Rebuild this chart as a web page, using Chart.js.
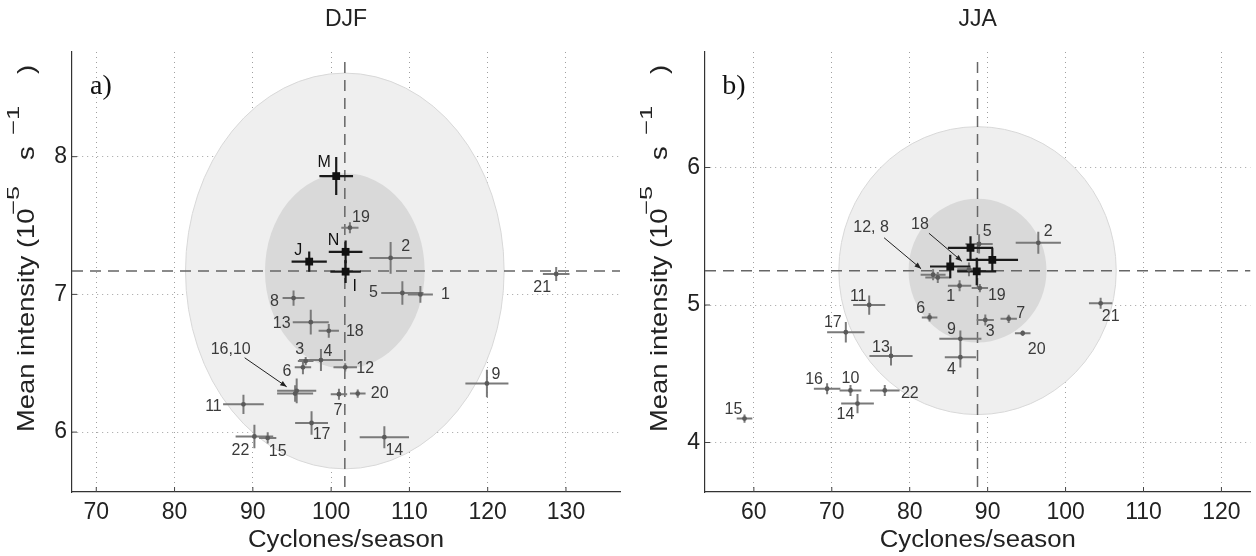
<!DOCTYPE html>
<html><head><meta charset="utf-8">
<script src="https://cdn.jsdelivr.net/npm/chart.js@4"></script>
<style>
html,body{margin:0;padding:0;background:#fff;width:1256px;height:556px;overflow:hidden}
#ca{position:absolute;left:0;top:0}
#cb{position:absolute;left:633px;top:0}
</style></head><body>
<canvas id="ca" width="628" height="556"></canvas>
<canvas id="cb" width="623" height="556"></canvas>
<script>
// ---------------- DATA ----------------
const modelIds = ['1','2','3','4','5','6','7','8','9','10','11','12','13','14','15','16','17','18','19','20','21','22'];
const reanIds = ['M','N','J','I'];

// DJF (panel a)
const djfModelX    = [111.4,107.6,96.75,98.7,109.1,96.4,101.0,95.2,119.9,95.4,88.8,101.8,97.4,106.8,91.9,95.6,97.5,99.7,102.4,103.4,128.75,90.2];
const djfModelY    = [7.00,7.265,6.516,6.523,7.01,6.47,6.275,6.973,6.353,6.28,6.202,6.47,6.798,5.963,5.958,6.30,6.066,6.735,7.484,6.28,7.148,5.968];
const djfModelErrX = [1.6,2.7,1.0,2.8,2.7,1.05,1.05,1.4,2.75,2.3,2.6,1.5,2.3,3.15,1.1,2.5,2.1,1.3,1.1,1.0,1.7,2.4];
const djfModelErrY = [0.06,0.115,0.03,0.08,0.085,0.05,0.04,0.055,0.1,0.06,0.07,0.03,0.09,0.08,0.04,0.09,0.085,0.05,0.04,0.03,0.05,0.085];
const djfReanX     = [100.65,101.85,97.2,101.85];
const djfReanY     = [7.859,7.309,7.238,7.165];
const djfReanErrX  = [2.15,2.15,2.25,1.95];
const djfReanErrY  = [0.138,0.083,0.073,0.083];
const djfMean      = [101.75,7.17];
const djfSigma     = [10.2,0.71];
const djfSigma2    = [20.35,1.437];
const djfXTicks    = [70,80,90,100,110,120,130];
const djfYTicks    = [6,7,8];
const djfXRange    = [66.9,136.9];
const djfYRange    = [5.565,8.76];

// JJA (panel b)
const jjaModelX    = [86.4,96.5,89.7,86.5,88.9,82.55,92.7,83.6,86.5,72.4,74.8,83.0,77.6,73.3,58.8,69.4,71.8,87.6,89.0,94.5,104.5,76.8];
const jjaModelY    = [5.14,5.452,4.891,4.62,5.444,4.91,4.90,5.20,4.754,4.379,5.0,5.22,4.63,4.283,4.174,4.391,4.802,5.26,5.123,4.795,5.012,4.379];
const jjaModelErrX = [1.5,2.9,1.1,2.0,1.75,1.0,1.05,1.6,2.7,1.4,2.06,1.6,2.77,2.1,1.0,1.7,2.4,1.5,1.05,1.0,1.5,1.9];
const jjaModelErrY = [0.04,0.08,0.04,0.075,0.07,0.03,0.03,0.04,0.06,0.04,0.07,0.04,0.07,0.07,0.03,0.04,0.075,0.05,0.03,0.02,0.04,0.04];
const jjaReanX     = [87.8,90.6,85.2,88.6];
const jjaReanY     = [5.415,5.328,5.28,5.244];
const jjaReanErrX  = [2.9,3.3,2.6,2.5];
const jjaReanErrY  = [0.085,0.085,0.085,0.1];
const jjaMean      = [88.7,5.25];
const jjaSigma     = [8.85,0.523];
const jjaSigma2    = [17.8,1.047];
const jjaXTicks    = [60,70,80,90,100,110,120];
const jjaYTicks    = [4,5,6];
const jjaXRange    = [53.73,123.73];
const jjaYRange    = [3.64,6.84];

// axis titles (text)
const xTitle = 'Cyclones/season';
const yTitleParts = [
  {text: 'Mean intensity (10', sup: false},
  {text: '\u22125', sup: true},
  {text: 's', sup: false},
  {text: '\u22121', sup: true},
  {text: ')', sup: false}
];

// ---------------- LABEL PLACEMENT (pixel offsets) ----------------
const djfLabelOffsets = {
  '1':[25,0],'2':[15,-11],'3':[-6,-11],'4':[7,-8],'5':[-29,0],'6':[-16,4],'7':[-1,16],'8':[-19,3],'9':[9,-9],
  '11':[-30,2],'12':[20,1],'13':[-29,1],'14':[10,13],'15':[10,14],'17':[10,12],'18':[26,1],'19':[11,-10],
  '20':[22,0],'21':[-14,14],'22':[-14,14],
  'M':[-12,-13],'N':[-12,-11],'J':[-11,-11],'I':[9,15]
};
const djfCallouts = [{text:'16,10', target:'16', label:[-66,-41], from:[-52,-33], to:[-10,-4]}];
const jjaLabelOffsets = {
  '1':[-9,11],'2':[10,-11],'3':[5,12],'4':[-9,12],'5':[8,-12],'6':[-9,-9],'7':[12,-5],'9':[-9,-9],'10':[0,-12],
  '11':[-11,-8],'13':[-10,-8],'14':[-12,11],'15':[-11,-9],'16':[-13,-9],'17':[-13,-10],'19':[17,8],
  '20':[14,16],'21':[10,13],'22':[25,3]
};
const jjaCallouts = [
  {text:'12, 8', target:'12', label:[-62,-47], from:[-49,-37], to:[-12,-6]},
  {text:'18', target:'18', label:[-49,-45], from:[-40,-36], to:[-7,-8]}
];
// along-text start (px), font size, horizontal stretch, raise for each y-title part
const yTitleLayout = [[0,24,1.14,0],[217,17,1.5,15],[272,24,1.14,0],[297,17,1.5,15],[358,24,1.14,0]];

// ---------------- CHART ----------------
const FONT = 'Liberation Sans';
Chart.defaults.font.family = FONT;

function pts(xs, ys, exs, eys, ids) {
  return xs.map((v, i) => ({x: v, y: ys[i], ex: exs[i], ey: eys[i], id: ids[i]}));
}

function makePanelPlugin(cfg) {
  return {
    id: 'panel_' + cfg.title,
    beforeDatasetsDraw(chart) {
      const {ctx, chartArea: a, scales: {x, y}} = chart;
      ctx.save();
      ctx.beginPath(); ctx.rect(a.left, a.top, a.right - a.left, a.bottom - a.top); ctx.clip();
      const cx = x.getPixelForValue(cfg.mean[0]), cy = y.getPixelForValue(cfg.mean[1]);
      [[cfg.sigma2, '#efefef', '#d8d8d8'], [cfg.sigma, '#d9d9d9', null]].forEach(([r, fill, stroke]) => {
        const rx = Math.abs(x.getPixelForValue(cfg.mean[0] + r[0]) - cx);
        const ry = Math.abs(y.getPixelForValue(cfg.mean[1] + r[1]) - cy);
        ctx.beginPath(); ctx.ellipse(cx, cy, rx, ry, 0, 0, 2 * Math.PI);
        ctx.fillStyle = fill; ctx.fill();
        if (stroke) { ctx.strokeStyle = stroke; ctx.lineWidth = 1; ctx.stroke(); }
      });
      ctx.setLineDash([11, 7]); ctx.strokeStyle = '#666'; ctx.lineWidth = 1.5;
      ctx.beginPath(); ctx.moveTo(cx, a.top + 10); ctx.lineTo(cx, a.bottom); ctx.stroke();
      ctx.beginPath(); ctx.moveTo(a.left, cy); ctx.lineTo(a.right, cy); ctx.stroke();
      ctx.setLineDash([]);
      const order = chart.data.datasets.slice().reverse();
      order.forEach(ds => {
        ctx.strokeStyle = ds.errColor; ctx.lineWidth = ds.errWidth;
        ds.data.forEach(d => {
          const px = x.getPixelForValue(d.x), py = y.getPixelForValue(d.y);
          ctx.beginPath();
          ctx.moveTo(x.getPixelForValue(d.x - d.ex), py); ctx.lineTo(x.getPixelForValue(d.x + d.ex), py);
          ctx.moveTo(px, y.getPixelForValue(d.y - d.ey)); ctx.lineTo(px, y.getPixelForValue(d.y + d.ey));
          ctx.stroke();
        });
      });
      ctx.restore();
    },
    afterDatasetsDraw(chart) {
      const {ctx, chartArea: a, scales: {x, y}} = chart;
      ctx.save();
      // inward tick marks
      ctx.strokeStyle = '#444'; ctx.lineWidth = 1;
      x.ticks.forEach(t => { const p = x.getPixelForValue(t.value); ctx.beginPath(); ctx.moveTo(p, a.bottom); ctx.lineTo(p, a.bottom - 5); ctx.stroke(); });
      y.ticks.forEach(t => { const p = y.getPixelForValue(t.value); ctx.beginPath(); ctx.moveTo(a.left, p); ctx.lineTo(a.left + 5, p); ctx.stroke(); });
      // point labels
      ctx.textAlign = 'center'; ctx.textBaseline = 'middle';
      ctx.font = '16px "' + FONT + '"';
      chart.data.datasets.forEach(ds => {
        ctx.fillStyle = ds.labelColor;
        ds.data.forEach(d => {
          const off = cfg.offsets[d.id];
          if (!off) return;
          ctx.fillText(d.id, x.getPixelForValue(d.x) + off[0], y.getPixelForValue(d.y) + off[1]);
        });
      });
      // callouts with arrows
      const all = chart.data.datasets.flatMap(ds => ds.data);
      cfg.callouts.forEach(c => {
        const d = all.find(p => p.id === c.target);
        const px = x.getPixelForValue(d.x), py = y.getPixelForValue(d.y);
        ctx.fillStyle = '#3a3a3a';
        ctx.fillText(c.text, px + c.label[0], py + c.label[1]);
        const x1 = px + c.from[0], y1 = py + c.from[1], x2 = px + c.to[0], y2 = py + c.to[1];
        ctx.strokeStyle = '#222'; ctx.lineWidth = 1;
        ctx.beginPath(); ctx.moveTo(x1, y1); ctx.lineTo(x2, y2); ctx.stroke();
        const ang = Math.atan2(y2 - y1, x2 - x1), L = 7, w = 0.38;
        ctx.beginPath();
        ctx.moveTo(x2, y2);
        ctx.lineTo(x2 - L * Math.cos(ang - w), y2 - L * Math.sin(ang - w));
        ctx.lineTo(x2 - L * Math.cos(ang + w), y2 - L * Math.sin(ang + w));
        ctx.closePath(); ctx.fillStyle = '#222'; ctx.fill();
      });
      // panel letter
      ctx.fillStyle = '#111';
      ctx.font = '28px "Liberation Serif"';
      ctx.fillText(cfg.letter, a.left + 29, a.top + 35);
      ctx.restore();
    },
    afterDraw(chart) {
      const {ctx, chartArea: a} = chart;
      // x-axis title (slightly widened, like the reference)
      ctx.save();
      ctx.translate((a.left + a.right) / 2, 541);
      ctx.scale(1.12, 1);
      ctx.fillStyle = '#222'; ctx.textAlign = 'center'; ctx.textBaseline = 'middle';
      ctx.font = '23px "' + FONT + '"';
      ctx.fillText(xTitle, 0, 0);
      ctx.restore();
      // y-axis title with superscripts, rotated
      ctx.save();
      ctx.translate(34, a.bottom - 60);
      ctx.rotate(-Math.PI / 2);
      ctx.fillStyle = '#222'; ctx.textAlign = 'left'; ctx.textBaseline = 'alphabetic';
      yTitleParts.forEach((p, i) => {
        const [start, size, sx, raise] = yTitleLayout[i];
        ctx.save();
        ctx.translate(start, -raise);
        ctx.scale(sx, 1);
        ctx.font = size + 'px "' + FONT + '"';
        ctx.fillText(p.text, 0, 0);
        ctx.restore();
      });
      ctx.restore();
    }
  };
}

function buildChart(canvasId, cfg) {
  return new Chart(document.getElementById(canvasId), {
    type: 'scatter',
    data: { datasets: [
      { label: 'Reanalyses', data: cfg.rean, pointStyle: 'rect', pointRadius: 5.5, pointBackgroundColor: '#111',
        pointBorderColor: '#111', pointBorderWidth: 0, errColor: '#1a1a1a', errWidth: 2.2, labelColor: '#111' },
      { label: 'Models', data: cfg.models, pointStyle: 'circle', pointRadius: 2.4, pointBackgroundColor: '#5a5a5a',
        pointBorderColor: '#5a5a5a', pointBorderWidth: 0, errColor: '#7a7a7a', errWidth: 2, labelColor: '#3a3a3a' }
    ]},
    options: {
      responsive: false, animation: false, events: [],
      layout: { padding: { left: 0, right: cfg.padRight, top: 0, bottom: 0 } },
      plugins: {
        legend: { display: false }, tooltip: { enabled: false },
        title: { display: true, fullSize: false, text: cfg.title, color: '#222',
                 font: { size: 23, weight: 'normal' }, padding: { top: 6, bottom: 18.4 } }
      },
      scales: {
        x: { type: 'linear', position: 'bottom', min: cfg.xRange[0], max: cfg.xRange[1],
             afterBuildTicks: s => { s.ticks = cfg.xTicks.map(v => ({ value: v })); },
             afterFit: s => { s.height = 64; },
             ticks: { color: '#222', font: { size: 23 }, padding: 7, maxRotation: 0, autoSkip: false },
             grid: { color: '#a0a0a0', lineWidth: 1, drawTicks: false },
             border: { display: true, color: '#333', width: 1.2, dash: [1, 4] },
             title: { display: false } },
        y: { type: 'linear', position: 'left', min: cfg.yRange[0], max: cfg.yRange[1],
             afterBuildTicks: s => { s.ticks = cfg.yTicks.map(v => ({ value: v })); },
             afterFit: s => { s.width = 72; },
             ticks: { color: '#222', font: { size: 23 }, padding: 5, autoSkip: false },
             grid: { color: '#a0a0a0', lineWidth: 1, drawTicks: false },
             border: { display: true, color: '#333', width: 1.2, dash: [1, 4] },
             title: { display: false } }
      }
    },
    plugins: [makePanelPlugin(cfg)]
  });
}

buildChart('ca', {
  title: 'DJF', letter: 'a)', padRight: 8,
  models: pts(djfModelX, djfModelY, djfModelErrX, djfModelErrY, modelIds),
  rean: pts(djfReanX, djfReanY, djfReanErrX, djfReanErrY, reanIds),
  mean: djfMean, sigma: djfSigma, sigma2: djfSigma2,
  xTicks: djfXTicks, yTicks: djfYTicks, xRange: djfXRange, yRange: djfYRange,
  offsets: djfLabelOffsets, callouts: djfCallouts
});
buildChart('cb', {
  title: 'JJA', letter: 'b)', padRight: 2,
  models: pts(jjaModelX, jjaModelY, jjaModelErrX, jjaModelErrY, modelIds),
  rean: pts(jjaReanX, jjaReanY, jjaReanErrX, jjaReanErrY, reanIds),
  mean: jjaMean, sigma: jjaSigma, sigma2: jjaSigma2,
  xTicks: jjaXTicks, yTicks: jjaYTicks, xRange: jjaXRange, yRange: jjaYRange,
  offsets: jjaLabelOffsets, callouts: jjaCallouts
});
</script>
</body></html>
